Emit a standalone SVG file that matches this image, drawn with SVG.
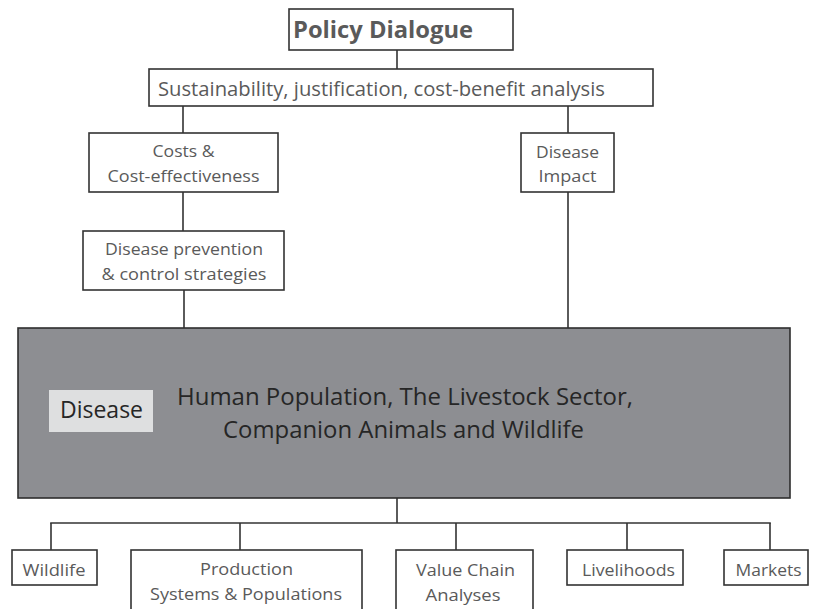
<svg xmlns="http://www.w3.org/2000/svg" width="813" height="609" viewBox="0 0 813 609">
<style>
.box{fill:#ffffff;stroke:#333333;stroke-width:1.6}
.t{font-family:"Open Sans","Noto Sans","Liberation Sans",sans-serif;fill:#5a5a5a;text-anchor:middle}
.s17{font-size:16.5px}
.s20{font-size:20px}
.big{font-family:"Open Sans","Noto Sans","Liberation Sans",sans-serif;fill:#262626;font-size:23px;text-anchor:middle}
.conn line{stroke:#333333;stroke-width:1.6}
</style>
<rect width="813" height="609" fill="#ffffff"/>
<g id="connectors" class="conn">
<line x1="397" y1="50" x2="397" y2="69"/>
<line x1="183" y1="106" x2="183" y2="133"/>
<line x1="568" y1="106" x2="568" y2="133"/>
<line x1="183" y1="192" x2="183" y2="231"/>
<line x1="184" y1="290" x2="184" y2="328"/>
<line x1="568" y1="192" x2="568" y2="328"/>
<line x1="397" y1="498" x2="397" y2="523"/>
<line x1="50.2" y1="523" x2="770.8" y2="523"/>
<line x1="51" y1="523" x2="51" y2="550"/>
<line x1="240" y1="523" x2="240" y2="550"/>
<line x1="456" y1="523" x2="456" y2="550"/>
<line x1="627" y1="523" x2="627" y2="550"/>
<line x1="770" y1="523" x2="770" y2="550"/>
</g>
<g id="policy">
<rect class="box" x="289" y="9" width="224" height="41"/>
<text class="t" x="383" y="38" font-size="22.5" font-weight="bold" fill="#555555" textLength="180" lengthAdjust="spacingAndGlyphs">Policy Dialogue</text>
</g>
<g id="sustainability">
<rect class="box" x="149" y="69" width="504" height="37"/>
<text class="t s20" x="381.5" y="96" textLength="447" lengthAdjust="spacingAndGlyphs">Sustainability, justification, cost-benefit analysis</text>
</g>
<g id="costs">
<rect class="box" x="89" y="133" width="189" height="59"/>
<text class="t s17" x="183.5" y="157" textLength="62" lengthAdjust="spacingAndGlyphs">Costs &amp;</text>
<text class="t s17" x="183.5" y="182" textLength="152" lengthAdjust="spacingAndGlyphs">Cost-effectiveness</text>
</g>
<g id="impact">
<rect class="box" x="521" y="133" width="93" height="59"/>
<text class="t s17" x="567.5" y="158" textLength="63" lengthAdjust="spacingAndGlyphs">Disease</text>
<text class="t s17" x="567.5" y="182" textLength="58" lengthAdjust="spacingAndGlyphs">Impact</text>
</g>
<g id="prevention">
<rect class="box" x="83" y="231" width="201" height="59"/>
<text class="t s17" x="184" y="255" textLength="158" lengthAdjust="spacingAndGlyphs">Disease prevention</text>
<text class="t s17" x="184" y="280" textLength="165" lengthAdjust="spacingAndGlyphs">&amp; control strategies</text>
</g>
<g id="disease-main">
<rect x="18" y="328" width="772" height="170" fill="#8d8e92" stroke="#2e2e2e" stroke-width="1.6"/>
<rect x="49" y="390" width="104" height="42" fill="#dedfe0"/>
<text class="big" x="101.5" y="418" textLength="83" lengthAdjust="spacingAndGlyphs">Disease</text>
<text class="big" x="405" y="405" textLength="456" lengthAdjust="spacingAndGlyphs">Human Population, The Livestock Sector,</text>
<text class="big" x="403.5" y="438" textLength="361" lengthAdjust="spacingAndGlyphs">Companion Animals and Wildlife</text>
</g>
<g id="wildlife">
<rect class="box" x="12" y="550" width="85" height="35"/>
<text class="t s17" x="54" y="576" textLength="63" lengthAdjust="spacingAndGlyphs">Wildlife</text>
</g>
<g id="production">
<rect class="box" x="131" y="550" width="231" height="62"/>
<text class="t s17" x="246.5" y="575" textLength="93" lengthAdjust="spacingAndGlyphs">Production</text>
<text class="t s17" x="246" y="600" textLength="192" lengthAdjust="spacingAndGlyphs">Systems &amp; Populations</text>
</g>
<g id="valuechain">
<rect class="box" x="396" y="550" width="137" height="62"/>
<text class="t s17" x="465.5" y="576" textLength="99" lengthAdjust="spacingAndGlyphs">Value Chain</text>
<text class="t s17" x="463" y="601" textLength="75" lengthAdjust="spacingAndGlyphs">Analyses</text>
</g>
<g id="livelihoods">
<rect class="box" x="567" y="550" width="116" height="35"/>
<text class="t s17" x="628.5" y="576" textLength="93" lengthAdjust="spacingAndGlyphs">Livelihoods</text>
</g>
<g id="markets">
<rect class="box" x="724" y="550" width="84" height="35"/>
<text class="t s17" x="768.5" y="576" textLength="66" lengthAdjust="spacingAndGlyphs">Markets</text>
</g>
</svg>
